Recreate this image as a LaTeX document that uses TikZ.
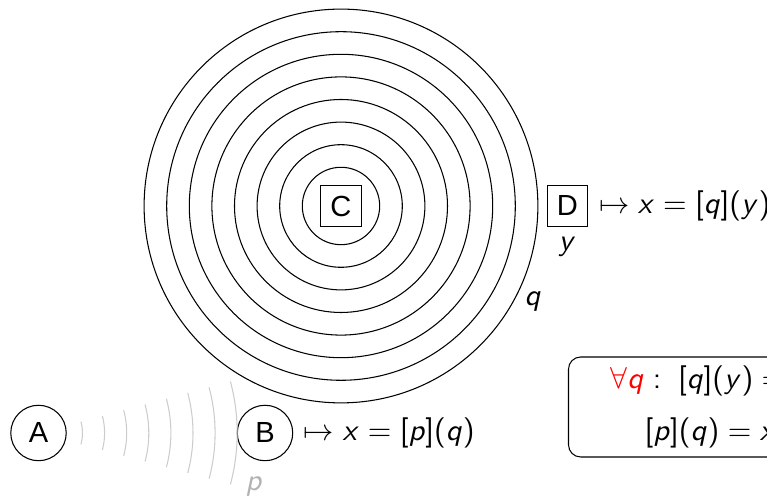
\documentclass[tikz,border=0pt]{standalone}
\usepackage[no-math]{fontspec}
\newfontfamily\helv{Liberation Sans}
\renewcommand{\familydefault}{\sfdefault}
\DeclareSymbolFont{operators}{OT1}{cmss}{m}{n}
\DeclareSymbolFont{letters}{OT1}{cmss}{m}{sl}
\begin{document}
\begin{tikzpicture}[x=0.33pt,y=-0.33pt,
  ring/.style={draw, line width=0.35pt},
  sqnode/.style={draw, rectangle, minimum size=13.5pt, inner sep=0pt, line width=0.35pt, font=\helv\fontsize{9.6}{11}\selectfont},
  rnode/.style={draw, circle, minimum size=18.3pt, inner sep=0pt, line width=0.35pt, font=\helv\fontsize{9.6}{11}\selectfont},
  wave/.style={draw=black!20, line width=0.35pt},
  maptext/.style={anchor=west}]
\useasboundingbox (0,0) rectangle (767,501);
\clip (0,0) rectangle (767,501);
\coordinate (O) at (341,206);
\foreach \k in {0,...,7}{
  \pgfmathsetmacro\r{(38.7+22.6*\k)*0.33}
  \draw[ring] (O) circle[radius=\r pt];
}
\node[sqnode] (C) at (O) {C};
\node[sqnode] (D) at (567.5,206) {D};
\node[maptext] (Dmap) at (D.east) {$\mapsto x = [q](y)$};
\node[anchor=north, inner sep=3pt] (Dy) at (D.south) {$y$};
\node (q) at (533,302) {$q$};
\node[rnode] (A) at (38.5,433) {A};
\node[rnode] (B) at (265,433) {B};
\node[maptext] (Bmap) at (B.east) {$\mapsto x = [p](q)$};
\foreach \k in {0,...,7}{
  \pgfmathsetmacro\r{(44+22.1*\k)*0.33}
  \draw[wave] ([shift={(-15:\r pt)}]A.center) arc[start angle=-15, end angle=15, radius=\r pt];
}
\node[text=black!30] (p) at (254,487) {$p$};
\node[draw, rounded corners=4pt, anchor=west, align=center, inner xsep=13.9pt, inner ysep=3pt, line width=0.35pt] (box) at (568,407) {$\textcolor{red}{\forall q} : \; [q](y) = x$\\[5pt] $[p](q) = x$};
\end{tikzpicture}
\end{document}
